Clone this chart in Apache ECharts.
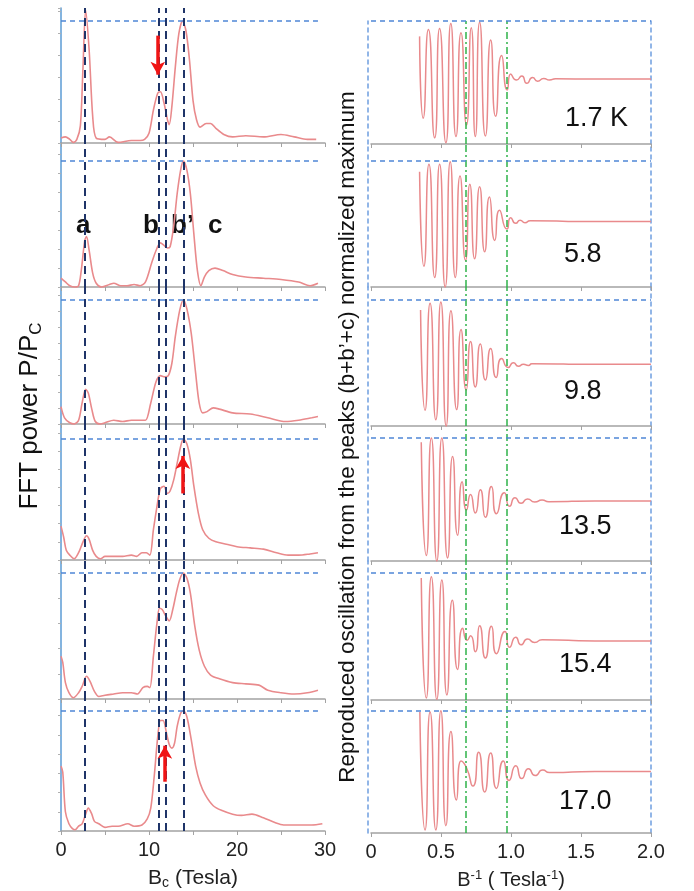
<!DOCTYPE html>
<html>
<head>
<meta charset="utf-8">
<script src="https://cdn.jsdelivr.net/npm/echarts@6/dist/echarts.min.js"></script>
<style>
  html, body { margin: 0; padding: 0; background: #fff; }
  #chart { width: 694px; height: 891px; }
</style>
</head>
<body>
<div id="chart"></div>
<script>
// === DATA ===
const temperatures = ['1.7 K', '5.8', '9.8', '13.5', '15.4', '17.0'];
const peakNames = ['a', 'b', 'b\u2019', 'c'];
const peakFields = [2.65, 11.1, 11.9, 13.9];      // Tesla, dashed guides
const windowEdges = [0.68, 0.97];                 // Tesla^-1, dash-dot guides
const fieldTickLabels = ['0', '10', '20', '30'];
const inverseTickLabels = ['0', '0.5', '1.0', '1.5', '2.0'];

// FFT power, normalised to peak c  [B (T), P/Pc]
const fft17 = [[0,0.04],[0.5,0.05],[1.0,0.03],[1.4,0.005],[1.8,0.03],[2.2,0.14],[2.5,0.62],[2.8,1.09],[3.2,0.76],[3.6,0.22],[4.0,0.04],[5,0.03],[5.5,0.05],[6.5,0.005],[8,0.02],[9,0.02],[9.5,0.03],[10,0.08],[10.5,0.27],[11.0,0.41],[11.3,0.42],[11.7,0.33],[12.1,0.19],[12.3,0.15],[12.6,0.30],[13.0,0.63],[13.4,0.90],[13.8,1.0],[14.2,0.92],[14.6,0.68],[15.0,0.35],[15.4,0.19],[15.8,0.13],[16.5,0.16],[17.0,0.16],[17.6,0.12],[18.5,0.07],[19.5,0.05],[21,0.06],[23,0.05],[25,0.07],[26.5,0.05],[28,0.03],[29,0.03]];
const fft58 = [[0,0.07],[0.5,0.04],[1,0.01],[1.6,0.0],[2.0,0.01],[2.3,0.13],[2.7,0.37],[2.9,0.40],[3.2,0.29],[3.6,0.11],[4.0,0.03],[4.6,0.0],[5.5,0.02],[6,0.03],[6.8,0.01],[7.5,0.01],[8.3,0.02],[9,0.01],[9.6,0.04],[10.3,0.19],[10.8,0.29],[11.3,0.35],[11.7,0.33],[12.1,0.31],[12.4,0.32],[12.8,0.48],[13.2,0.74],[13.6,0.93],[13.9,1.0],[14.3,0.93],[14.7,0.74],[15.1,0.42],[15.5,0.13],[15.9,0.01],[16.3,0.08],[16.8,0.13],[17.5,0.15],[18.4,0.13],[19.5,0.10],[21,0.08],[23,0.07],[25,0.06],[27,0.04],[28.3,0.01],[29.2,0.03]];
const fft98 = [[0,0.14],[0.4,0.05],[1.0,0.01],[1.5,0.0],[2.0,0.03],[2.4,0.17],[2.8,0.28],[3.1,0.25],[3.5,0.12],[3.9,0.02],[4.5,0.0],[5,0.01],[6,0.03],[7,0.02],[8,0.03],[9,0.03],[9.6,0.03],[10.2,0.17],[10.8,0.34],[11.3,0.39],[11.8,0.38],[12.2,0.39],[12.6,0.49],[13.0,0.71],[13.5,0.92],[13.9,1.0],[14.3,0.93],[14.8,0.73],[15.3,0.41],[15.7,0.17],[16.1,0.09],[16.6,0.10],[17.3,0.13],[18,0.12],[19.5,0.09],[21.5,0.08],[23.5,0.05],[25.5,0.02],[27,0.03],[28.5,0.05],[29.2,0.06]];
const fft135 = [[0,0.28],[0.3,0.19],[0.6,0.08],[1.0,0.04],[1.5,0.01],[2.0,0.06],[2.5,0.15],[2.9,0.20],[3.2,0.17],[3.6,0.08],[4.0,0.03],[4.5,0.01],[5,0.03],[6,0.03],[7,0.03],[8,0.04],[8.6,0.03],[9.2,0.06],[9.7,0.06],[10.1,0.04],[10.5,0.25],[10.9,0.44],[11.3,0.59],[11.7,0.61],[12.1,0.55],[12.4,0.57],[12.8,0.66],[13.2,0.80],[13.6,0.94],[13.9,1.0],[14.3,0.96],[14.7,0.83],[15.1,0.61],[15.6,0.39],[16.1,0.25],[16.8,0.18],[17.6,0.15],[18.8,0.13],[20,0.11],[21.5,0.10],[23,0.09],[24.5,0.06],[25.8,0.04],[27,0.04],[28.3,0.05],[29.2,0.06]];
const fft154 = [[0,0.34],[0.2,0.29],[0.5,0.13],[0.9,0.05],[1.4,0.01],[2.0,0.05],[2.4,0.10],[2.9,0.18],[3.3,0.14],[3.8,0.06],[4.3,0.02],[5,0.03],[6,0.04],[7,0.05],[8,0.05],[8.7,0.04],[9.3,0.09],[9.8,0.10],[10.1,0.09],[10.5,0.34],[10.9,0.60],[11.2,0.72],[11.5,0.71],[11.9,0.66],[12.3,0.62],[12.7,0.71],[13.1,0.84],[13.5,0.95],[13.9,1.0],[14.3,0.96],[14.7,0.84],[15.2,0.58],[15.7,0.39],[16.3,0.26],[17,0.19],[18,0.16],[19.5,0.13],[21,0.12],[22.5,0.11],[23.5,0.07],[25,0.05],[26.5,0.04],[28,0.05],[29.2,0.07]];
const fft170 = [[0,0.54],[0.2,0.49],[0.5,0.16],[0.9,0.06],[1.3,0.02],[1.6,0.01],[2.0,0.04],[2.4,0.06],[2.8,0.14],[3.1,0.19],[3.5,0.14],[3.8,0.08],[4.3,0.06],[5,0.03],[5.8,0.04],[6.5,0.04],[7.6,0.06],[8.3,0.04],[9.2,0.05],[9.8,0.10],[10.2,0.19],[10.6,0.46],[11.0,0.79],[11.3,0.92],[11.6,0.92],[12.0,0.81],[12.3,0.72],[12.6,0.69],[12.9,0.73],[13.2,0.87],[13.6,0.98],[13.9,1.0],[14.3,0.95],[14.8,0.76],[15.3,0.54],[15.8,0.40],[16.4,0.30],[17.3,0.21],[18.3,0.17],[19.5,0.14],[20.5,0.13],[21.7,0.14],[23,0.11],[24.3,0.07],[25.3,0.05],[27,0.05],[28.5,0.05],[29.7,0.06]];

// reproduced oscillation  [1/B (1/T), normalised amplitude]
const osc17 = [[0.347,0.75],[0.373,-0.58],[0.41,0.86],[0.455,-0.90],[0.49,0.88],[0.535,-0.98],[0.57,0.96],[0.607,-0.88],[0.643,0.81],[0.682,-0.69],[0.716,0.89],[0.745,-0.88],[0.776,0.98],[0.817,-0.87],[0.855,0.69],[0.89,-0.55],[0.933,0.44],[0.973,-0.12],[0.998,0.14],[1.04,0.04],[1.077,0.105],[1.113,-0.014],[1.154,0.08],[1.19,0.02],[1.234,0.067],[1.275,0.04],[1.318,0.06],[1.6,0.056],[2.0,0.056]];
const osc58 = [[0.347,0.83],[0.378,-0.67],[0.414,0.95],[0.455,-0.85],[0.49,0.95],[0.53,-1.0],[0.566,0.99],[0.602,-0.85],[0.636,0.76],[0.675,-0.58],[0.706,0.63],[0.74,-0.55],[0.776,0.59],[0.812,-0.44],[0.846,0.43],[0.884,-0.26],[0.918,0.22],[0.971,-0.08],[0.998,0.10],[1.034,0.01],[1.065,0.06],[1.10,0.02],[1.137,0.05],[1.6,0.04],[2.0,0.04]];
const osc98 = [[0.354,0.84],[0.386,-0.75],[0.422,0.95],[0.463,-0.90],[0.499,0.97],[0.537,-1.0],[0.571,0.83],[0.612,-0.74],[0.643,0.53],[0.68,-0.43],[0.711,0.34],[0.745,-0.38],[0.781,0.30],[0.817,-0.27],[0.855,0.23],[0.894,-0.23],[0.933,0.07],[0.98,-0.07],[1.017,0.005],[1.053,-0.05],[1.089,-0.02],[1.125,-0.04],[1.149,-0.01],[1.6,-0.02],[2.0,-0.02]];
const osc135 = [[0.359,0.93],[0.395,-0.91],[0.431,1.0],[0.47,-1.0],[0.506,1.0],[0.547,-0.95],[0.583,0.70],[0.619,-0.58],[0.651,0.29],[0.682,-0.17],[0.711,0.08],[0.745,-0.22],[0.781,0.16],[0.817,-0.29],[0.86,0.21],[0.896,-0.23],[0.952,0.11],[0.99,-0.11],[1.029,0.03],[1.072,-0.06],[1.118,0.01],[1.169,-0.04],[1.222,-0.01],[1.27,-0.035],[1.6,-0.025],[2.0,-0.025]];
const osc154 = [[0.359,0.92],[0.395,-0.97],[0.431,0.94],[0.47,-0.99],[0.506,0.89],[0.542,-0.92],[0.581,0.57],[0.619,-0.52],[0.655,0.13],[0.687,-0.06],[0.711,0.01],[0.745,-0.24],[0.776,0.17],[0.817,-0.34],[0.86,0.16],[0.896,-0.27],[0.957,0.08],[0.99,-0.17],[1.034,-0.01],[1.072,-0.13],[1.118,-0.04],[1.169,-0.095],[1.222,-0.05],[1.6,-0.07],[2.0,-0.07]];
const osc170 = [[0.349,0.98],[0.386,-0.95],[0.422,0.98],[0.463,-0.95],[0.499,1.0],[0.535,-0.88],[0.571,0.66],[0.61,-0.46],[0.643,0.18],[0.68,0.08],[0.728,-0.23],[0.769,0.32],[0.812,-0.33],[0.855,0.31],[0.896,-0.27],[0.945,0.18],[0.986,-0.14],[1.034,0.10],[1.077,-0.11],[1.125,0.05],[1.173,-0.06],[1.227,0.03],[1.275,-0.01],[1.6,0.008],[2.0,0.008]];

const fftPanels = [fft17, fft58, fft98, fft135, fft154, fft170];
const oscPanels = [osc17, osc58, osc98, osc135, osc154, osc170];
const leftTickStep = [0.18, 0.15, 0.13, 0.15, 0.2, 0.16];

// red arrows marking the b peak shoulder: panel, field, tail value, head value
const arrows = [[0, 11.0, 0.88, 0.56], [3, 13.85, 0.55, 0.86], [5, 11.8, 0.41, 0.71]];

// === LAYOUT (pixels) ===
const leftTop  = [8, 143, 287, 424, 560, 699];
const leftDash = [21, 161, 300, 439, 573, 711];
const leftBase = [143, 287, 424, 560, 699, 833];
const rightTop  = [21, 144, 287, 426, 561, 700];
const rightDash = [21, 161, 300, 438, 573, 711];
const rightBase = [144, 287, 426, 561, 700, 836];
const tempPos = [[565, 120], [564, 256], [564, 393], [559, 528], [559, 666], [559, 803]];
const letterPos = [[76, 228], [143, 228], [171, 228], [208, 228]];

const curveColor = '#e98a8c';
const frameBlue = '#4f86d6';
const navy = '#1f3468';
const greenDash = '#2fb34a';
const axisGray = '#a3a3a3';
const fontFamily = '"Liberation Sans", Arial, sans-serif';

const chart = echarts.init(document.getElementById('chart'));
const grids = [], xAxes = [], yAxes = [], series = [];

// === LEFT COLUMN: FFT spectra ===
for (let i = 0; i < 6; i++) {
    const h = leftBase[i] - leftDash[i];
    const yMax = 1 + (leftDash[i] - leftTop[i]) / h;
    grids.push({ left: 61, width: 264, top: leftTop[i], height: leftBase[i] - leftTop[i] });
    xAxes.push({
        type: 'value', gridIndex: i, min: 0, max: 30, interval: 10,
        axisLine: { onZero: false, lineStyle: { color: axisGray, width: 1.5 } },
        axisTick: { show: true, length: 4, lineStyle: { color: axisGray } },
        minorTick: { show: true, splitNumber: 2, length: 4, lineStyle: { color: axisGray } },
        splitLine: { show: false },
        axisLabel: {
            show: i === 5, fontSize: 20, color: '#222', margin: 9,
            formatter: v => fieldTickLabels[Math.round(v / 10)]
        },
        name: i === 5 ? '{n|B}{s|c}{n| (Tesla)}' : '',
        nameLocation: 'middle', nameGap: 36,
        nameTextStyle: {
            rich: {
                n: { fontSize: 21, color: '#222', fontFamily },
                s: { fontSize: 14, color: '#222', fontFamily, padding: [9, 0, 0, 0] }
            }
        }
    });
    yAxes.push({
        type: 'value', gridIndex: i, min: 0, max: yMax, interval: leftTickStep[i],
        axisLine: { show: true, onZero: false, lineStyle: { color: '#5b9bd5', width: 1.5 } },
        axisTick: { show: true, length: 3, lineStyle: { color: '#b0b0b0' } },
        axisLabel: { show: false },
        splitLine: { show: false }
    });

    const marks = peakFields.map(x => ({
        xAxis: x, lineStyle: { color: navy, width: 2, type: [8, 5] }
    }));
    marks.push([
        { coord: [0, 1], lineStyle: { color: frameBlue, width: 1.5, type: [5, 4] } },
        { coord: [29.2, 1] }
    ]);
    arrows.filter(a => a[0] === i).forEach(a => {
        marks.push([
            { coord: [a[1], a[2]], symbol: 'none', lineStyle: { color: '#f01414', width: 3.5, type: 'solid' } },
            { coord: [a[1], a[3]], symbol: 'arrow', symbolSize: [11, 13], itemStyle: { color: '#f01414' } }
        ]);
    });

    series.push({
        type: 'line', xAxisIndex: i, yAxisIndex: i,
        data: fftPanels[i], smooth: 0.3, symbol: 'none', clip: false,
        lineStyle: { color: curveColor, width: 1.6 },
        markLine: { silent: true, symbol: 'none', label: { show: false }, data: marks }
    });
}

// === RIGHT COLUMN: reproduced oscillations ===
for (let i = 0; i < 6; i++) {
    const g = 6 + i;
    const h = rightBase[i] - rightDash[i];
    const yMax = 1 + 2 * (rightDash[i] - rightTop[i]) / h;
    grids.push({ left: 371, width: 280, top: rightTop[i], height: rightBase[i] - rightTop[i] });
    xAxes.push({
        type: 'value', gridIndex: g, min: 0, max: 2, interval: 0.5,
        axisLine: { onZero: false, lineStyle: { color: axisGray, width: 1.5 } },
        axisTick: { show: true, length: 4, lineStyle: { color: axisGray } },
        splitLine: { show: false },
        axisLabel: {
            show: i === 5, fontSize: 20, color: '#222', margin: 9,
            formatter: v => inverseTickLabels[Math.round(v / 0.5)]
        },
        name: i === 5 ? '{n|B}{p|-1}{n| ( Tesla}{p|-1}{n|)}' : '',
        nameLocation: 'middle', nameGap: 36,
        nameTextStyle: {
            rich: {
                n: { fontSize: 20, color: '#222', fontFamily },
                p: { fontSize: 13, color: '#222', fontFamily, padding: [0, 0, 9, 0] }
            }
        }
    });
    yAxes.push({
        type: 'value', gridIndex: g, position: 'left', offset: 3, min: -1, max: yMax,
        axisLine: { show: true, onZero: false, lineStyle: { color: '#6f9ee0', width: 1.5, type: [4, 4] } },
        axisTick: { show: false }, axisLabel: { show: false }, splitLine: { show: false }
    });

    series.push({
        type: 'line', xAxisIndex: g, yAxisIndex: g,
        data: oscPanels[i], smooth: 0.7, symbol: 'none', clip: false,
        lineStyle: { color: curveColor, width: 1.5 },
        markLine: {
            silent: true, symbol: 'none', label: { show: false },
            data: windowEdges.map(x => ({
                xAxis: x, lineStyle: { color: greenDash, width: 1.5, type: [7, 3, 2, 3] }
            })).concat([{ yAxis: 1, lineStyle: { color: frameBlue, width: 1.5, type: [5, 4] } }])
        }
    });
}
// right-hand frame edges
for (let i = 0; i < 6; i++) {
    const h = rightBase[i] - rightDash[i];
    yAxes.push({
        type: 'value', gridIndex: 6 + i, position: 'right', min: -1,
        max: 1 + 2 * (rightDash[i] - rightTop[i]) / h,
        axisLine: { show: true, onZero: false, lineStyle: { color: '#6f9ee0', width: 1.5, type: [4, 4] } },
        axisTick: { show: false }, axisLabel: { show: false }, splitLine: { show: false }
    });
}

// === TEXT ===
const graphics = [];
temperatures.forEach((t, i) => {
    graphics.push({
        type: 'text', left: tempPos[i][0], top: tempPos[i][1] - 15,
        style: { text: t, fontSize: 27, fill: '#111', fontFamily }
    });
});
peakNames.forEach((n, i) => {
    graphics.push({
        type: 'text', left: letterPos[i][0], top: letterPos[i][1] - 15,
        style: { text: n, fontSize: 26, fontWeight: 'bold', fill: '#111', fontFamily }
    });
});
graphics.push({
    type: 'text', x: 30, y: 416, rotation: Math.PI / 2,
    style: {
        text: '{n|FFT power P/P}{s|C}', align: 'center', verticalAlign: 'middle',
        rich: {
            n: { fontSize: 26, fill: '#111', fontFamily },
            s: { fontSize: 17, fill: '#111', fontFamily, padding: [12, 0, 0, 0] }
        }
    }
});
graphics.push({
    type: 'text', x: 348, y: 437, rotation: Math.PI / 2,
    style: {
        text: 'Reproduced oscillation from the peaks (b+b\u2019+c) normalized maximum',
        align: 'center', verticalAlign: 'middle', fontSize: 22.5, fill: '#111', fontFamily
    }
});

chart.setOption({
    animation: false,
    textStyle: { fontFamily },
    grid: grids,
    xAxis: xAxes,
    yAxis: yAxes,
    series: series,
    graphic: graphics
});

window.addEventListener('resize', () => chart.resize());
</script>
</body>
</html>
